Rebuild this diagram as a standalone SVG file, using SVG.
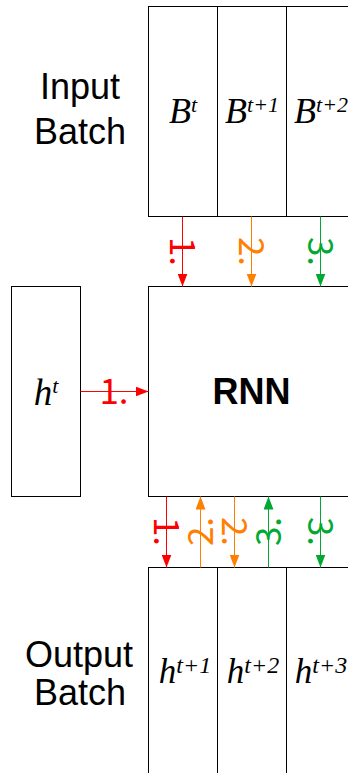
<svg xmlns="http://www.w3.org/2000/svg" width="348" height="773" viewBox="0 0 348 773">
  <style>
    .box { fill: #ffffff; stroke: #000000; stroke-width: 1; }
    .cap { font-family: "Liberation Sans", Arial, sans-serif; font-size: 36px; fill: #000000; text-anchor: middle; }
    .rnn { font-family: "Liberation Sans", Arial, sans-serif; font-size: 36px; font-weight: bold; fill: #000000; text-anchor: middle; }
    .math { font-family: "Liberation Serif", "Times New Roman", serif; font-style: italic; fill: #000000; text-anchor: middle; }
    .num { font-family: "Noto Sans CJK SC", "DejaVu Sans", sans-serif; font-size: 35px; text-anchor: middle; }
    .red { stroke: #ff0000; stroke-width: 1; fill: none; }
    .orange { stroke: #ff8000; stroke-width: 1; fill: none; }
    .green { stroke: #00a933; stroke-width: 1; fill: none; }
  </style>
  <defs>
    <marker id="ah-red" markerUnits="userSpaceOnUse" markerWidth="13" markerHeight="10" refX="13" refY="5" orient="auto">
      <path d="M0,0 L13,5 L0,10 z" fill="#ff0000"/>
    </marker>
    <marker id="ah-orange" markerUnits="userSpaceOnUse" markerWidth="13" markerHeight="10" refX="13" refY="5" orient="auto">
      <path d="M0,0 L13,5 L0,10 z" fill="#ff8000"/>
    </marker>
    <marker id="ah-green" markerUnits="userSpaceOnUse" markerWidth="13" markerHeight="10" refX="13" refY="5" orient="auto">
      <path d="M0,0 L13,5 L0,10 z" fill="#00a933"/>
    </marker>
  </defs>

  <g id="input-batch-label">
    <text class="cap" x="80" y="99">Input</text>
    <text class="cap" x="80" y="144">Batch</text>
  </g>
  <g id="input-Bt">
    <rect class="box" x="148.5" y="6.5" width="69" height="210"/>
    <text class="math" x="183" y="123" font-size="36">B<tspan font-size="22" dy="-11">t</tspan></text>
  </g>
  <g id="input-Bt1">
    <rect class="box" x="217.5" y="6.5" width="69" height="210"/>
    <text class="math" x="252" y="123" font-size="36">B<tspan font-size="22" dy="-11">t+1</tspan></text>
  </g>
  <g id="input-Bt2">
    <rect class="box" x="286.5" y="6.5" width="69" height="210"/>
    <text class="math" x="321" y="123" font-size="36">B<tspan font-size="22" dy="-11">t+2</tspan></text>
  </g>

  <g id="hidden-ht">
    <rect class="box" x="11.5" y="286.5" width="69" height="210"/>
    <text class="math" x="46" y="405" font-size="37">h<tspan font-size="22" dy="-12">t</tspan></text>
  </g>
  <g id="rnn">
    <rect class="box" x="148.5" y="286.5" width="207" height="210"/>
    <text class="rnn" x="251.5" y="404">RNN</text>
  </g>

  <g id="output-batch-label">
    <text class="cap" x="79" y="667">Output</text>
    <text class="cap" x="80" y="705">Batch</text>
  </g>
  <g id="output-ht1">
    <rect class="box" x="148.5" y="567.5" width="69" height="220"/>
    <text class="math" x="185" y="683" font-size="35">h<tspan font-size="24" dy="-10">t+1</tspan></text>
  </g>
  <g id="output-ht2">
    <rect class="box" x="217.5" y="567.5" width="69" height="220"/>
    <text class="math" x="253" y="683" font-size="35">h<tspan font-size="24" dy="-10">t+2</tspan></text>
  </g>
  <g id="output-ht3">
    <rect class="box" x="286.5" y="567.5" width="69" height="220"/>
    <text class="math" x="321" y="683" font-size="35">h<tspan font-size="24" dy="-10">t+3</tspan></text>
  </g>

  <g id="connectors">
    <line class="red" x1="80.5" y1="391.5" x2="148.5" y2="391.5" marker-end="url(#ah-red)"/>
    <text class="num" x="114" y="404" fill="#ff0000">1.</text>

    <line class="red" x1="182.5" y1="216.5" x2="182.5" y2="286.5" marker-end="url(#ah-red)"/>
    <text class="num" transform="translate(182.5,251.5) rotate(90)" x="0" y="12.6" fill="#ff0000">1.</text>
    <line class="orange" x1="251.5" y1="216.5" x2="251.5" y2="286.5" marker-end="url(#ah-orange)"/>
    <text class="num" transform="translate(251.5,251.5) rotate(90)" x="0" y="12.6" fill="#ff8000">2.</text>
    <line class="green" x1="320.5" y1="216.5" x2="320.5" y2="286.5" marker-end="url(#ah-green)"/>
    <text class="num" transform="translate(320.5,251.5) rotate(90)" x="0" y="12.6" fill="#00a933">3.</text>

    <line class="red" x1="166.5" y1="496.5" x2="166.5" y2="567.5" marker-end="url(#ah-red)"/>
    <text class="num" transform="translate(166.5,531.5) rotate(90)" x="0" y="12.6" fill="#ff0000">1.</text>
    <line class="orange" x1="200.5" y1="567.5" x2="200.5" y2="496.5" marker-end="url(#ah-orange)"/>
    <text class="num" transform="translate(200.5,531.5) rotate(-90)" x="0" y="12.6" fill="#ff8000">2.</text>
    <line class="orange" x1="234.5" y1="496.5" x2="234.5" y2="567.5" marker-end="url(#ah-orange)"/>
    <text class="num" transform="translate(234.5,531.5) rotate(90)" x="0" y="12.6" fill="#ff8000">2.</text>
    <line class="green" x1="268.5" y1="567.5" x2="268.5" y2="496.5" marker-end="url(#ah-green)"/>
    <text class="num" transform="translate(268.5,531.5) rotate(-90)" x="0" y="12.6" fill="#00a933">3.</text>
    <line class="green" x1="320.5" y1="496.5" x2="320.5" y2="567.5" marker-end="url(#ah-green)"/>
    <text class="num" transform="translate(320.5,531.5) rotate(90)" x="0" y="12.6" fill="#00a933">3.</text>
  </g>
</svg>
